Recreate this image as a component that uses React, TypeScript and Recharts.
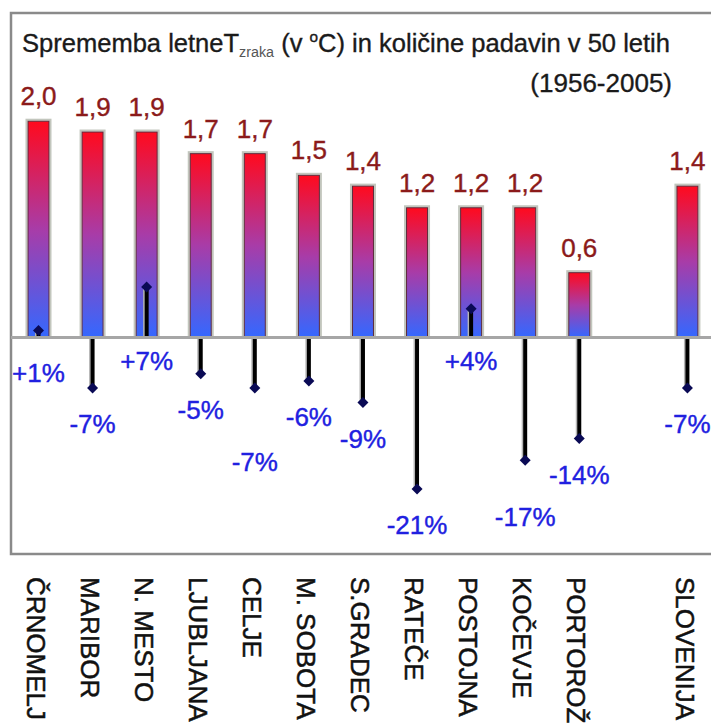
import React from 'react';
import { ComposedChart, Bar, XAxis, YAxis, ReferenceLine, LabelList } from 'recharts';

// postaje (prazno mesto pred SLOVENIJA je namerno)
const categories = ['ČRNOMELJ', 'MARIBOR', 'N. MESTO', 'LJUBLJANA', 'CELJE', 'M. SOBOTA', 'S.GRADEC', 'RATEČE', 'POSTOJNA', 'KOČEVJE', 'PORTOROŽ', '', 'SLOVENIJA'];
// sprememba letne T zraka (°C)
const tempChange = [2.0, 1.9, 1.9, 1.7, 1.7, 1.5, 1.4, 1.2, 1.2, 1.2, 0.6, null, 1.4];
// sprememba količine padavin (%)
const precipChange = [1, -7, 7, -5, -7, -6, -9, -21, 4, -17, -14, null, -7];

const data = categories.map((name, i) => ({ name, temp: tempChange[i], precip: precipChange[i] }));

const FONT = '"Liberation Sans", Arial, Helvetica, sans-serif';
const BAR_W = 21;

// rocni zamiki nekaterih oznak padavin, kot na izvirniku
const PRECIP_LABEL_NUDGE: Record<string, number> = { 'ČRNOMELJ': 12, CELJE: 38, 'KOČEVJE': 21 };

const TempBar = (props: any) => {
  const { x, y, width, height } = props;
  if (height == null || !width) return null;
  const top = Math.min(y, y + height);
  const h = Math.abs(height);
  return (
    <g>
      <rect x={x - 1.5} y={top - 1.5} width={width + 3} height={h + 1.5} fill="none" stroke="#c2c6bd" strokeWidth={2} />
      <rect x={x} y={top} width={width} height={h} fill="url(#tempGrad)" stroke="#5b2a3a" strokeWidth={1} />
    </g>
  );
};

const PrecipStem = (props: any) => {
  const { x, y, width, height, payload } = props;
  const v = payload?.precip;
  if (v == null || height == null) return null;
  const cx = x + width / 2;
  const a = y;
  const b = y + height;
  const end = v >= 0 ? Math.min(a, b) : Math.max(a, b);
  const zero = v >= 0 ? Math.max(a, b) : Math.min(a, b);
  return (
    <g>
      <line x1={cx - 2.5} x2={cx - 2.5} y1={zero} y2={end} stroke="#b4b4b4" strokeWidth={2} />
      <line x1={cx} x2={cx} y1={zero} y2={end} stroke="#000" strokeWidth={4} />
      <path d={`M${cx},${end - 5.5} L${cx + 5.5},${end} L${cx},${end + 5.5} L${cx - 5.5},${end} Z`} fill="#0a0a55" />
    </g>
  );
};

const tempLabel = (p: any) => {
  const { x, y, width, value } = p;
  if (value == null) return null;
  return (
    <text x={x + width / 2} y={y - 16} textAnchor="middle" fill="#8b1a1a" stroke="#8b1a1a" strokeWidth={0.4} fontSize={26} fontFamily={FONT}>
      {Number(value).toFixed(1).replace('.', ',')}
    </text>
  );
};

const precipLabel = (p: any) => {
  const { x, y, width, height, value, index } = p;
  if (value == null || height == null) return null;
  const v = Number(value);
  const a = y;
  const b = y + height;
  const end = v >= 0 ? Math.min(a, b) : Math.max(a, b);
  const zero = v >= 0 ? Math.max(a, b) : Math.min(a, b);
  const base = v >= 0 ? zero + 32 : end + 45;
  const nudge = PRECIP_LABEL_NUDGE[categories[index]] || 0;
  return (
    <text x={x + width / 2} y={base + nudge} textAnchor="middle" fill="#2020e0" stroke="#2020e0" strokeWidth={0.4} fontSize={26} fontFamily={FONT}>
      {`${v > 0 ? '+' : ''}${v}%`}
    </text>
  );
};

const CategoryTick = (p: any) => {
  const { x, y, payload } = p;
  return (
    <text transform={`translate(${x - 2},${y + 23}) rotate(90)`} dy="0.36em" textAnchor="start" fill="#111" stroke="#111" strokeWidth={0.5} fontSize={26} fontFamily={FONT}>
      {payload.value}
    </text>
  );
};

export default function App() {
  return (
    <div style={{ position: 'absolute', left: 0, top: 0, width: 711, height: 724, overflow: 'hidden', background: '#fff' }}>
      <svg width={711} height={724} style={{ position: 'absolute', left: 0, top: 0 }}>
        <rect x={11} y={13} width={740} height={541} fill="none" stroke="#8a8a8a" strokeWidth={2.5} />
      </svg>
      <div style={{ position: 'absolute', left: 0, top: 0 }}>
        <ComposedChart width={730} height={724} data={data} margin={{ top: 13, right: 16, left: 11, bottom: 10 }} barGap={-BAR_W}>
          <defs>
            <linearGradient id="tempGrad" x1="0" y1="0" x2="0" y2="1">
              <stop offset="0%" stopColor="#ff0a1e" />
              <stop offset="50%" stopColor="#a83ca8" />
              <stop offset="100%" stopColor="#3468ff" />
            </linearGradient>
          </defs>
          <XAxis dataKey="name" height={160} interval={0} axisLine={false} tickLine={false} tickSize={0} tickMargin={0} tick={CategoryTick} />
          <YAxis yAxisId="t" domain={[-2, 3]} hide allowDataOverflow />
          <YAxis yAxisId="p" domain={[-30, 45]} hide allowDataOverflow />
          <ReferenceLine yAxisId="t" y={0} stroke="#a6a6a6" strokeWidth={3} />
          <Bar yAxisId="t" dataKey="temp" barSize={BAR_W} shape={TempBar} isAnimationActive={false}>
            <LabelList dataKey="temp" content={tempLabel} />
          </Bar>
          <Bar yAxisId="p" dataKey="precip" barSize={BAR_W} shape={PrecipStem} isAnimationActive={false}>
            <LabelList dataKey="precip" content={precipLabel} />
          </Bar>
        </ComposedChart>
      </div>
      <svg width={711} height={724} style={{ position: 'absolute', left: 0, top: 0, pointerEvents: 'none' }}>
        <text x={22} y={52} fontSize={25} fontFamily={FONT} fill="#1a1a1a" stroke="#1a1a1a" strokeWidth={0.35} textLength={648} lengthAdjust="spacingAndGlyphs">
          Sprememba letneT<tspan fontSize={14} dy={5} fill="#555" stroke="none">zraka</tspan>
          <tspan dy={-5}> (v </tspan>
          <tspan fontSize={15} dy={-10}>o</tspan>
          <tspan dy={10}>C) in količine padavin v 50 letih</tspan>
        </text>
        <text x={672} y={92} textAnchor="end" fontSize={26} fontFamily={FONT} fill="#1a1a1a" stroke="#1a1a1a" strokeWidth={0.35}>(1956-2005)</text>
      </svg>
    </div>
  );
}
